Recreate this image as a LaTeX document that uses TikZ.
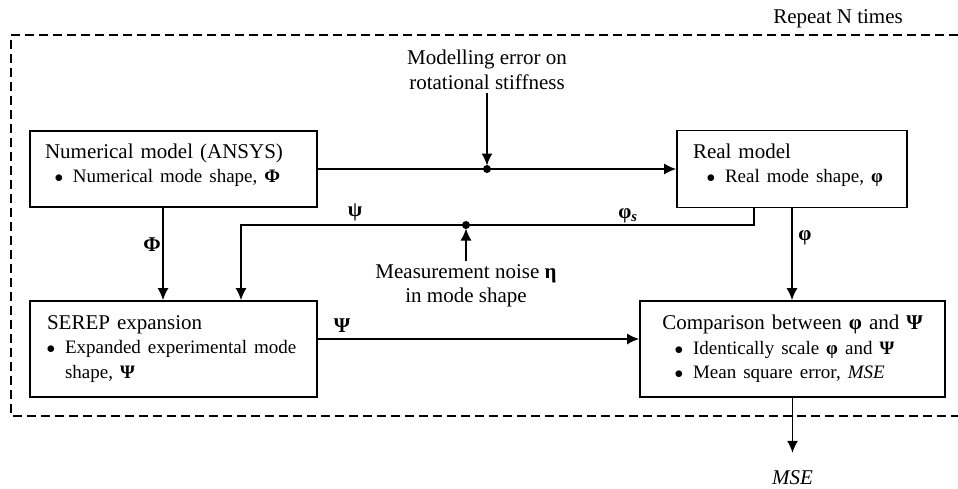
\documentclass[tikz,border=0pt]{standalone}
\usepackage{fontspec}
\setmainfont{Liberation Serif}
\usetikzlibrary{arrows.meta,positioning}
\tikzset{>={Latex[length=12pt,width=11pt]}}
\newcommand{\bsz}{\fontsize{19}{24.5}\selectfont}
\newcommand{\bpt}[1][28pt]{\makebox[#1][r]{\makebox[9pt][c]{$\bullet$}\hspace{9.5pt}}}
\newcommand{\lowpad}{\rule[-12pt]{0pt}{1pt}}

\begin{document}
\begin{tikzpicture}[x=1pt,y=-1pt,
    every node/.style={font=\fontsize{21}{24.5}\selectfont},
    modbox/.style={draw, line width=1.7pt, inner xsep=15pt, inner ysep=0pt, align=left},
    conn/.style={line width=1.5pt},
    sym/.style={inner sep=0pt}]
  \useasboundingbox (0,0) rectangle (958,488);
  \draw[line width=1.3pt, dash pattern=on 9pt off 5pt] (958,35) -- (11,35) -- (11,416) -- (958,416);
  \node (repeat) at (838,19) {Repeat N times};

  \node[modbox, text width=257pt, minimum height=76pt] (numerical) at (173.5,169)
    {Numerical model (ANSYS)\\ \bsz\bpt Numerical mode shape, \textbf{Φ}\lowpad};
  \node[modbox, inner xsep=16pt, text width=198pt, minimum height=77pt] (real) at (792,169)
    {Real model\\ \bsz\bpt[32pt]Real mode shape, \textbf{φ}\lowpad};
  \node[modbox, inner xsep=17pt, text width=253pt, minimum height=96pt] (serep) at (173.5,349)
    {SEREP expansion\\ \bsz\bpt[18pt]\makebox[235pt][s]{Expanded experimental mode}\\
     \bsz\hspace*{18pt}shape, \textbf{Ψ}};
  \node[modbox, inner xsep=14pt, text width=277pt, minimum height=96pt] (compare) at (792.5,349)
    {\makebox[277pt][c]{Comparison between \textbf{φ} and \textbf{Ψ}}\\
     \bsz\bpt[39pt]Identically scale \textbf{φ} and \textbf{Ψ}\\
     \bsz\bpt[39pt]Mean square error, \textit{MSE}};

  \node[align=center] (modelerr) at (487,70) {Modelling error on\\ rotational stiffness};
  \node[align=center] (noise) at (466,286) {Measurement noise \textbf{η}\\ in mode shape};

  \coordinate (jerr) at (487,169);
  \coordinate (jnoise) at (466,225);
  \coordinate (out) at ([yshift=-55pt]compare.south);

  \draw[conn,->] (numerical) -- (real);
  \draw[conn,->,shorten >=3.5pt] (modelerr) -- (jerr);
  \fill (jerr) circle (4pt);
  \draw[conn,->] ([xshift=-38pt]real.south) |- (jnoise) -| ([xshift=67.5pt]serep.north);
  \fill (jnoise) circle (4pt);
  \draw[conn,->,shorten >=3.5pt] (noise) -- (jnoise);
  \draw[conn,->] ([xshift=-10.5pt]numerical.south) -- ([xshift=-10.5pt]serep.north);
  \draw[conn,->] (real.south) -- (real.south |- compare.north);
  \draw[conn,->] ([yshift=10pt]serep.east) -- ([yshift=10pt]serep.east -| compare.west);
  \draw[conn,->] (compare.south) -- (out);
  \node (mse) at (792.5,478) {\textit{MSE}};

  \node[sym] (lpsi) at (355,212) {\textbf{ψ}};
  \node[sym] (lphis) at (628,216) {\textbf{φ}\textsubscript{\textbf{\textit{s}}}};
  \node[sym] (lPhi) at (152,245) {\textbf{Φ}};
  \node[sym] (lphi) at (805,238) {\textbf{φ}};
  \node[sym] (lPsi) at (342,326) {\textbf{Ψ}};
\end{tikzpicture}
\end{document}
